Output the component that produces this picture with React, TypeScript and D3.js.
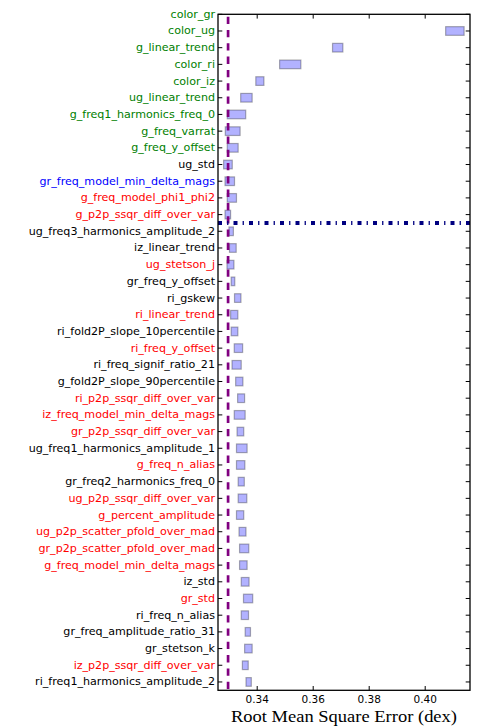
import React from "react";
import * as d3 from "d3";

const features = [
  "color_gr", "color_ug", "g_linear_trend", "color_ri", "color_iz", "ug_linear_trend",
  "g_freq1_harmonics_freq_0", "g_freq_varrat", "g_freq_y_offset", "ug_std",
  "gr_freq_model_min_delta_mags", "g_freq_model_phi1_phi2", "g_p2p_ssqr_diff_over_var",
  "ug_freq3_harmonics_amplitude_2", "iz_linear_trend", "ug_stetson_j", "gr_freq_y_offset",
  "ri_gskew", "ri_linear_trend", "ri_fold2P_slope_10percentile", "ri_freq_y_offset",
  "ri_freq_signif_ratio_21", "g_fold2P_slope_90percentile", "ri_p2p_ssqr_diff_over_var",
  "iz_freq_model_min_delta_mags", "gr_p2p_ssqr_diff_over_var", "ug_freq1_harmonics_amplitude_1",
  "g_freq_n_alias", "gr_freq2_harmonics_freq_0", "ug_p2p_ssqr_diff_over_var",
  "g_percent_amplitude", "ug_p2p_scatter_pfold_over_mad", "gr_p2p_scatter_pfold_over_mad",
  "g_freq_model_min_delta_mags", "iz_std", "gr_std", "ri_freq_n_alias",
  "gr_freq_amplitude_ratio_31", "gr_stetson_k", "iz_p2p_ssqr_diff_over_var",
  "ri_freq1_harmonics_amplitude_2",
];

// feature group (drives label colour)
const featureGroup = [
  "core", "core", "core", "core", "core", "core", "core", "core", "core", "other",
  "special", "flag", "flag", "other", "other", "flag", "other", "other", "flag", "other",
  "flag", "other", "other", "flag", "flag", "flag", "other", "flag", "other", "flag",
  "flag", "flag", "flag", "flag", "other", "flag", "other", "other", "other", "flag",
  "other",
];

const rmseLow = [
  0.4250, 0.4073, 0.3669, 0.3480, 0.3395, 0.3341, 0.3293, 0.3286, 0.3293, 0.3280,
  0.3285, 0.3293, 0.3285, 0.3299, 0.3301, 0.3292, 0.3307, 0.3319, 0.3305, 0.3307,
  0.3318, 0.3310, 0.3323, 0.3330, 0.3318, 0.3328, 0.3326, 0.3326, 0.3332, 0.3332,
  0.3326, 0.3335, 0.3337, 0.3337, 0.3343, 0.3351, 0.3343, 0.3357, 0.3355, 0.3347,
  0.3360,
];
const rmseHigh = [
  0.4320, 0.4139, 0.3706, 0.3556, 0.3424, 0.3382, 0.3359, 0.3339, 0.3332, 0.3311,
  0.3319, 0.3326, 0.3305, 0.3315, 0.3325, 0.3317, 0.3320, 0.3342, 0.3331, 0.3331,
  0.3348, 0.3343, 0.3349, 0.3355, 0.3357, 0.3352, 0.3364, 0.3356, 0.3354, 0.3363,
  0.3352, 0.3360, 0.3370, 0.3364, 0.3371, 0.3384, 0.3369, 0.3376, 0.3382, 0.3368,
  0.3379,
];

const xTicks = [0.34, 0.36, 0.38, 0.4];
const baselineRMSE = 0.3296;
const cutoffRow = 12.5;

const groupColor: Record<string, string> = {
  core: "#008000",
  other: "#000000",
  special: "#0000ff",
  flag: "#ff0000",
};

export default function App() {
  const left = 218, right = 470, top = 14.3, bottom = 690.3;
  const x = d3.scaleLinear().domain([0.326, 0.416]).range([left, right]);
  const y = d3.scaleLinear().domain([0, 40.5]).range([top, bottom]);
  const half = 0.26;
  const tickLen = 4.3;
  const sans = "'DejaVu Sans', sans-serif";

  return (
    <svg
      width={485}
      height={727}
      style={{ position: "absolute", left: 0, top: 0, background: "#fff" }}
    >
      <defs>
        <clipPath id="plotclip">
          <rect x={left} y={top} width={right - left} height={bottom - top} />
        </clipPath>
      </defs>
      <rect x={0} y={0} width={485} height={727} fill="#fff" />
      <g clipPath="url(#plotclip)">
        {features.map((f, i) => (
          <rect
            key={f}
            x={x(rmseLow[i])}
            y={y(i - half)}
            width={x(rmseHigh[i]) - x(rmseLow[i])}
            height={y(i + half) - y(i - half)}
            fill="#0000ff"
            fillOpacity={0.3}
            stroke="#000"
            strokeOpacity={0.3}
            strokeWidth={1.2}
          />
        ))}
        <line
          x1={x(baselineRMSE)}
          x2={x(baselineRMSE)}
          y1={top}
          y2={bottom}
          stroke="#800080"
          strokeWidth={2.7}
          strokeDasharray="7.3 6"
          strokeDashoffset={10.9}
        />
        <line
          x1={left}
          x2={right}
          y1={y(cutoffRow)}
          y2={y(cutoffRow)}
          stroke="#000080"
          strokeWidth={4}
          strokeDasharray="4 5.1 1.3 5.1"
        />
      </g>
      {/* y ticks */}
      {features.map((f, i) => (
        <g key={"t" + f}>
          <line x1={left} x2={left + tickLen} y1={y(i)} y2={y(i)} stroke="#000" strokeWidth={1} />
          <line x1={right - tickLen} x2={right} y1={y(i)} y2={y(i)} stroke="#000" strokeWidth={1} />
          <text
            x={left - 3}
            y={y(i)}
            textAnchor="end"
            dominantBaseline="central"
            fontFamily={sans}
            fontSize={11.1}
            fill={groupColor[featureGroup[i]]}
          >
            {f}
          </text>
        </g>
      ))}
      {/* x ticks */}
      {xTicks.map((t) => (
        <g key={"x" + t}>
          <line x1={x(t)} x2={x(t)} y1={bottom} y2={bottom - tickLen} stroke="#000" strokeWidth={1} />
          <line x1={x(t)} x2={x(t)} y1={top} y2={top + tickLen} stroke="#000" strokeWidth={1} />
          <text
            x={x(t)}
            y={699.3}
            textAnchor="middle"
            dominantBaseline="central"
            fontFamily={sans}
            fontSize={10.5}
            fill="#000"
          >
            {d3.format(".2f")(t)}
          </text>
        </g>
      ))}
      <rect
        x={left}
        y={top}
        width={right - left}
        height={bottom - top}
        fill="none"
        stroke="#000"
        strokeWidth={1.3}
      />
      <text
        x={(left + right) / 2}
        y={722}
        textAnchor="middle"
        fontFamily="'Liberation Serif', 'DejaVu Serif', serif"
        fontSize={17.5}
        textLength={226}
        lengthAdjust="spacingAndGlyphs"
        fill="#000"
      >
        Root Mean Square Error (dex)
      </text>
    </svg>
  );
}
